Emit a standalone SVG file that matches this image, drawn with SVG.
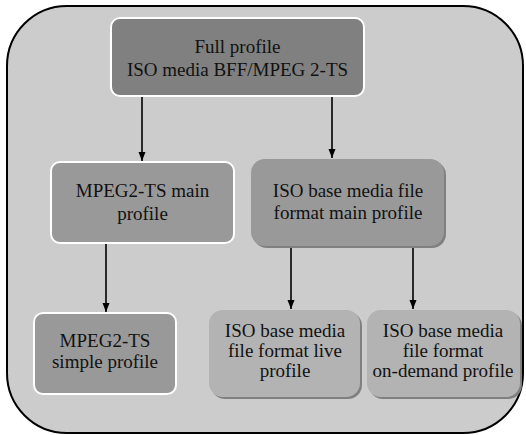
<svg xmlns="http://www.w3.org/2000/svg" width="526" height="435" viewBox="0 0 526 435">
<defs>
<marker id="ah" markerWidth="10" markerHeight="8" refX="9" refY="3.5" orient="auto" markerUnits="userSpaceOnUse">
<path d="M0,0 L9,3.5 L0,7 Z" fill="#000"/>
</marker>
<filter id="sh" x="-5%" y="-5%" width="115%" height="115%">
<feOffset dx="2" dy="2" in="SourceAlpha" result="o"/>
<feFlood flood-color="#808080"/>
<feComposite in2="o" operator="in" result="s"/>
<feMerge><feMergeNode in="s"/><feMergeNode in="SourceGraphic"/></feMerge>
</filter>
</defs>
<style>
text{font-size:19px;fill:#111;text-anchor:middle}
.dark{fill:#808080;stroke:#fff;stroke-width:2}
.mid{fill:#999999;stroke:#fff;stroke-width:2}
.midsh{fill:#999999}
.light{fill:#b3b3b3}
.conn line{stroke:#000;stroke-width:1.6;marker-end:url(#ah)}
</style>
<rect id="container" x="7" y="6" width="516" height="427" rx="60" ry="60" fill="#cccccc" stroke="#000" stroke-width="2"/>
<g font-family="'Liberation Serif', 'Times New Roman', 'DejaVu Serif', serif">
<g id="full">
<rect class="dark" x="111" y="18" width="253" height="78" rx="9"/>
<text x="237.5" y="53">Full profile</text>
<text x="237.5" y="76">ISO media BFF/MPEG 2-TS</text>
</g>
<g id="ts-main">
<rect class="mid" x="51" y="162" width="183" height="81" rx="9"/>
<text x="142.5" y="197">MPEG2-TS main</text>
<text x="142.5" y="220">profile</text>
</g>
<g id="iso-main">
<rect class="midsh" x="251" y="159" width="193" height="87" rx="14" filter="url(#sh)"/>
<text x="348" y="197">ISO base media file</text>
<text x="348" y="219">format main profile</text>
</g>
<g id="ts-simple">
<rect class="mid" x="34" y="313" width="142" height="81" rx="9"/>
<text x="105" y="347">MPEG2-TS</text>
<text x="105" y="368">simple profile</text>
</g>
<g id="iso-live">
<rect class="light" x="209" y="310" width="151" height="87" rx="14" filter="url(#sh)"/>
<text x="285" y="337">ISO base media</text>
<text x="285" y="357">file format live</text>
<text x="285" y="377">profile</text>
</g>
<g id="iso-ondemand">
<rect class="light" x="367" y="310" width="153" height="87" rx="14" filter="url(#sh)"/>
<text x="443" y="337">ISO base media</text>
<text x="443" y="357">file format</text>
<text x="443" y="377">on-demand profile</text>
</g>
</g>
<g class="conn" id="connectors">
<line x1="142" y1="97" x2="142" y2="161"/>
<line x1="332" y1="97" x2="332" y2="158"/>
<line x1="106" y1="244" x2="106" y2="312"/>
<line x1="291" y1="248" x2="291" y2="309"/>
<line x1="413" y1="248" x2="413" y2="309"/>
</g>
</svg>
